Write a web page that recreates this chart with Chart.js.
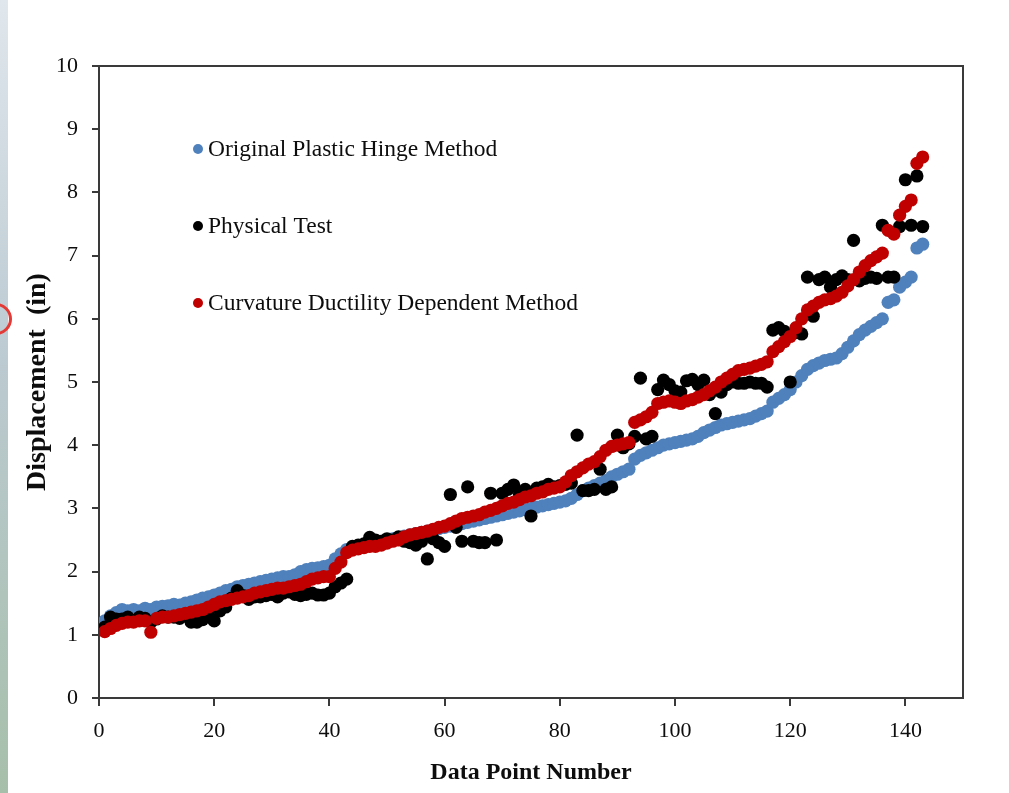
<!DOCTYPE html>
<html>
<head>
<meta charset="utf-8">
<title>Displacement vs Data Point Number</title>
<script src="https://cdn.jsdelivr.net/npm/chart.js@4.4.1/dist/chart.umd.min.js"></script>
<style>
  html, body { margin: 0; padding: 0; background: #fff; }
  #wrap { position: relative; width: 1009px; height: 793px; overflow: hidden; background: #fff; }
  #c { position: absolute; left: 0; top: 0; }
  #side { position: absolute; left: 0; top: 0; width: 8px; height: 793px;
          background: linear-gradient(#e0e7ed 0%, #bccad1 45%, #a6bfaa 100%); }
  #ring { position: absolute; left: -20px; top: 303px; width: 26px; height: 26px;
          border: 3px solid #e53935; border-radius: 50%; }
</style>
</head>
<body>
<div id="wrap">
  <canvas id="c" width="1009" height="793"></canvas>
  <div id="side"></div>
  <div id="ring"></div>
</div>
<script>
// Series labels (legend order) and colours
const seriesNames = ['Original Plastic Hinge Method', 'Physical Test', 'Curvature Ductility Dependent Method'];
const seriesColors = ['#4f81bd', '#000000', '#c00000'];

// Axis tick labels
const xTicks = [0, 20, 40, 60, 80, 100, 120, 140];
const yTicks = [0, 1, 2, 3, 4, 5, 6, 7, 8, 9, 10];

// Displacement (in) for data points 1..143
const plasticHinge = [
  1.22, 1.30, 1.35, 1.40, 1.38, 1.40, 1.38, 1.42, 1.40, 1.44,
  1.45, 1.46, 1.48, 1.47, 1.50, 1.52, 1.55, 1.58, 1.60, 1.63,
  1.66, 1.70, 1.72, 1.76, 1.78, 1.80, 1.82, 1.84, 1.86, 1.88,
  1.90, 1.92, 1.92, 1.95, 2.00, 2.03, 2.05, 2.06, 2.08, 2.10,
  2.20, 2.28, 2.35, 2.38, 2.40, 2.42, 2.44, 2.46, 2.48, 2.50,
  2.52, 2.54, 2.56, 2.58, 2.60, 2.62, 2.64, 2.66, 2.68, 2.70,
  2.72, 2.74, 2.76, 2.78, 2.80, 2.82, 2.84, 2.86, 2.88, 2.90,
  2.92, 2.94, 2.96, 2.98, 3.00, 3.02, 3.04, 3.06, 3.08, 3.10,
  3.12, 3.16, 3.22, 3.28, 3.32, 3.36, 3.40, 3.44, 3.50, 3.54,
  3.58, 3.62, 3.78, 3.84, 3.88, 3.92, 3.96, 4.00, 4.02, 4.04,
  4.06, 4.08, 4.10, 4.14, 4.20, 4.24, 4.28, 4.32, 4.34, 4.36,
  4.38, 4.40, 4.42, 4.46, 4.50, 4.54, 4.68, 4.74, 4.80, 4.88,
  5.00, 5.10, 5.20, 5.26, 5.30, 5.34, 5.36, 5.38, 5.45, 5.55,
  5.65, 5.75, 5.82, 5.88, 5.94, 6.00, 6.26, 6.30, 6.50, 6.58,
  6.66, 7.12, 7.18
];

const physicalTest = [
  1.12, 1.28, 1.25, 1.25, 1.28, 1.22, 1.28, 1.26, 1.20, 1.25,
  1.30, 1.28, 1.28, 1.26, 1.30, 1.20, 1.20, 1.24, 1.32, 1.22,
  1.38, 1.44, 1.58, 1.70, 1.62, 1.56, 1.60, 1.60, 1.62, 1.64,
  1.60, 1.66, 1.68, 1.64, 1.62, 1.64, 1.66, 1.63, 1.63, 1.66,
  1.76, 1.82, 1.88, 2.40, 2.42, 2.44, 2.54, 2.50, 2.48, 2.52,
  2.50, 2.55, 2.48, 2.46, 2.42, 2.48, 2.20, 2.52, 2.46, 2.40,
  3.22, 2.70, 2.48, 3.34, 2.48, 2.46, 2.46, 3.24, 2.50, 3.24,
  3.30, 3.37, 3.22, 3.30, 2.88, 3.32, 3.34, 3.38, 3.34, 3.36,
  3.38, 3.40, 4.16, 3.28, 3.28, 3.30, 3.62, 3.30, 3.34, 4.16,
  3.96, 4.02, 4.14, 5.06, 4.10, 4.14, 4.88, 5.03, 4.96, 4.86,
  4.84, 5.02, 5.04, 4.96, 5.03, 4.80, 4.50, 4.84, 4.96, 5.00,
  4.98, 4.98, 5.00, 4.98, 4.98, 4.92, 5.82, 5.86, 5.80, 5.00,
  5.78, 5.76, 6.66, 6.04, 6.62, 6.66, 6.50, 6.62, 6.68, 6.62,
  7.24, 6.60, 6.64, 6.66, 6.64, 7.48, 6.66, 6.66, 7.46, 8.20,
  7.48, 8.26, 7.46
];

const curvatureDuctility = [
  1.05, 1.10, 1.15, 1.18, 1.20, 1.20, 1.22, 1.22, 1.04, 1.26,
  1.28, 1.28, 1.30, 1.32, 1.34, 1.36, 1.38, 1.40, 1.44, 1.48,
  1.52, 1.54, 1.56, 1.58, 1.60, 1.62, 1.66, 1.68, 1.70, 1.72,
  1.74, 1.74, 1.76, 1.78, 1.80, 1.84, 1.88, 1.90, 1.92, 1.92,
  2.05, 2.15, 2.30, 2.34, 2.36, 2.38, 2.40, 2.40, 2.42, 2.45,
  2.48, 2.50, 2.55, 2.58, 2.60, 2.62, 2.64, 2.67, 2.70, 2.72,
  2.76, 2.80, 2.84, 2.86, 2.88, 2.90, 2.94, 2.97, 3.00, 3.04,
  3.08, 3.10, 3.14, 3.18, 3.20, 3.24, 3.26, 3.30, 3.32, 3.34,
  3.42, 3.52, 3.58, 3.64, 3.70, 3.74, 3.82, 3.92, 3.98, 4.00,
  4.02, 4.04, 4.36, 4.40, 4.45, 4.52, 4.66, 4.68, 4.70, 4.68,
  4.66, 4.70, 4.72, 4.76, 4.80, 4.86, 4.92, 5.00, 5.06, 5.12,
  5.18, 5.20, 5.22, 5.25, 5.28, 5.32, 5.48, 5.56, 5.64, 5.72,
  5.86, 6.00, 6.14, 6.20, 6.26, 6.30, 6.32, 6.36, 6.42, 6.52,
  6.62, 6.74, 6.84, 6.92, 6.98, 7.04, 7.40, 7.34, 7.64, 7.78,
  7.88, 8.46, 8.56
];

const seriesValues = [plasticHinge, physicalTest, curvatureDuctility];
// red drawn on top, then black, then blue underneath
const drawOrder = [2, 1, 0];

const SERIF = '"Liberation Serif", "Times New Roman", serif';
const AXIS = '#3a3a3a';
const TEXT = '#0d0d0d';

// Each point's x is its data point number (1-based position in the series)
const toPoints = vals => vals.map((v, i) => ({ x: i + 1, y: v }));

const datasets = seriesValues.map((vals, k) => ({
  label: seriesNames[k],
  data: toPoints(vals),
  backgroundColor: seriesColors[k],
  borderWidth: 0,
  pointRadius: 6.6,
  pointHoverRadius: 6.6,
  order: drawOrder[k]
}));

// Closes the plot box with top and right edges
const frame = {
  id: 'frame',
  afterDraw(chart) {
    const { ctx, chartArea: a } = chart;
    ctx.save();
    ctx.strokeStyle = AXIS;
    ctx.lineWidth = 2;
    ctx.beginPath();
    ctx.moveTo(a.left, a.top);
    ctx.lineTo(a.right, a.top);
    ctx.lineTo(a.right, a.bottom);
    ctx.stroke();
    ctx.restore();
  }
};

// Legend written inside the plot area
const innerLegend = {
  id: 'innerLegend',
  afterDraw(chart) {
    const { ctx } = chart;
    const markerX = 198, textX = 208, firstY = 149, step = 77;
    ctx.save();
    ctx.font = '23.5px ' + SERIF;
    ctx.textAlign = 'left';
    ctx.textBaseline = 'middle';
    seriesNames.forEach((name, k) => {
      const y = firstY + k * step;
      ctx.fillStyle = seriesColors[k];
      ctx.beginPath();
      ctx.arc(markerX, y, 5, 0, Math.PI * 2);
      ctx.fill();
      ctx.fillStyle = TEXT;
      ctx.fillText(name, textX, y + 1);
    });
    ctx.restore();
  }
};

new Chart(document.getElementById('c'), {
  type: 'scatter',
  data: { datasets },
  options: {
    responsive: false,
    animation: false,
    events: [],
    layout: { padding: { left: 0, top: 66, right: 46, bottom: 0 } },
    plugins: { legend: { display: false }, tooltip: { enabled: false } },
    scales: {
      x: {
        type: 'linear',
        min: 0,
        max: 150,
        afterBuildTicks: s => { s.ticks = xTicks.map(v => ({ value: v })); },
        afterFit: s => { s.height = 95; },
        grid: { drawOnChartArea: false, drawTicks: true, tickLength: 8, color: AXIS, lineWidth: 2 },
        border: { display: true, color: AXIS, width: 2 },
        ticks: { font: { family: SERIF, size: 22 }, color: TEXT, padding: 12, maxRotation: 0 },
        title: {
          display: true, text: 'Data Point Number', color: TEXT,
          font: { family: SERIF, size: 24, weight: 'bold' },
          padding: { top: 0, bottom: 6 }
        }
      },
      y: {
        type: 'linear',
        min: 0,
        max: 10,
        afterBuildTicks: s => { s.ticks = yTicks.map(v => ({ value: v })); },
        afterFit: s => { s.width = 99; },
        grid: { drawOnChartArea: false, drawTicks: true, tickLength: 7, color: AXIS, lineWidth: 2 },
        border: { display: true, color: AXIS, width: 2 },
        ticks: { font: { family: SERIF, size: 22 }, color: TEXT, padding: 14 },
        title: {
          display: true, text: 'Displacement  (in)', color: TEXT,
          font: { family: SERIF, size: 28, weight: 'bold' },
          padding: { top: 21, bottom: 0 }
        }
      }
    }
  },
  plugins: [frame, innerLegend]
});
</script>
</body>
</html>
